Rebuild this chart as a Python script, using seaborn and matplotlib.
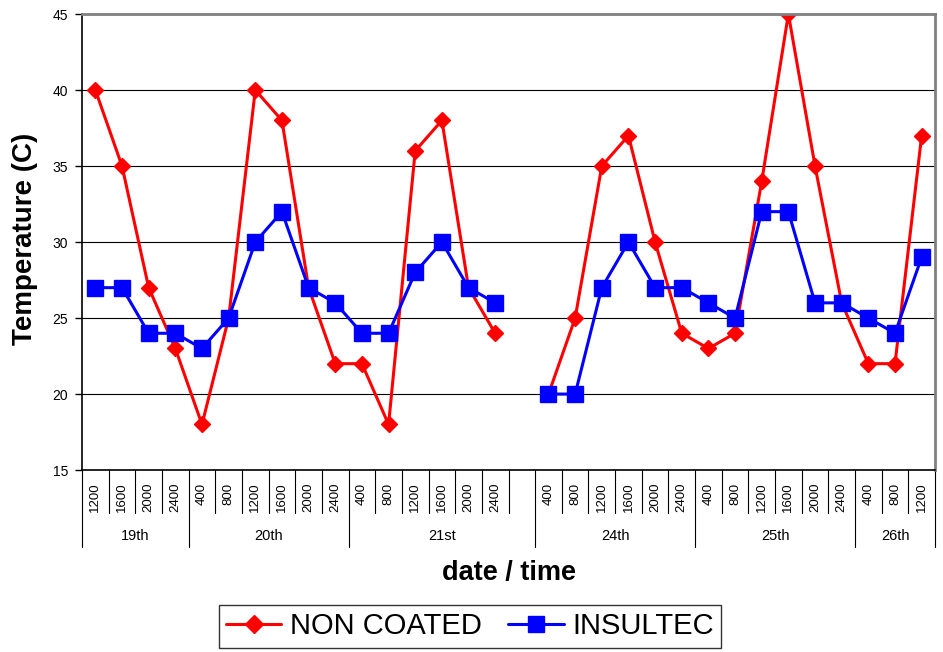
import numpy as np
import pandas as pd
import matplotlib
matplotlib.use('Agg')
import matplotlib.pyplot as plt
import seaborn as sns
from matplotlib.lines import Line2D

# categorias del eje x (hora) y grupos (dia); '' = hueco entre el 21 y el 24
time_labels = ['1200', '1600', '2000', '2400',
               '400', '800', '1200', '1600', '2000', '2400',
               '400', '800', '1200', '1600', '2000', '2400', '',
               '400', '800', '1200', '1600', '2000', '2400',
               '400', '800', '1200', '1600', '2000', '2400',
               '400', '800', '1200']
day_labels = ['19th', '20th', '21st', '24th', '25th', '26th']
day_sizes = [4, 6, 7, 6, 6, 3]

nan = np.nan
non_coated = [40, 35, 27, 23,
              18, 25, 40, 38, 27, 22,
              22, 18, 36, 38, 27, 24, nan,
              20, 25, 35, 37, 30, 24,
              23, 24, 34, 45, 35, 26,
              22, 22, 37]
insultec = [27, 27, 24, 24,
            23, 25, 30, 32, 27, 26,
            24, 24, 28, 30, 27, 26, nan,
            20, 20, 27, 30, 27, 27,
            26, 25, 32, 32, 26, 26,
            25, 24, 29]

sns.set_style('white')
plt.rcParams['font.family'] = ['Liberation Sans', 'DejaVu Sans']
for k in ['text.color', 'axes.labelcolor', 'xtick.color', 'ytick.color']:
    plt.rcParams[k] = 'black'

pos = np.arange(len(time_labels))
df = pd.DataFrame({'pos': pos, 'NON COATED': non_coated, 'INSULTEC': insultec})
df['seg'] = df['NON COATED'].isna().cumsum()
data = df.melt(id_vars=['pos', 'seg'], var_name='series', value_name='temp').dropna()

fig = plt.figure(figsize=(9.43, 6.52), dpi=100)
ax = fig.add_axes([0.087, 0.279, 0.9045, 0.6995])

styles = {'NON COATED': ('#FF0000', 'D', 8), 'INSULTEC': ('#0000FF', 's', 11)}
for name in ['NON COATED', 'INSULTEC']:
    color, marker, ms = styles[name]
    sub = data[data['series'] == name]
    sns.lineplot(data=sub, x='pos', y='temp', units='seg', estimator=None,
                 sort=False, color=color, marker=marker, markersize=ms,
                 markeredgecolor=color, markeredgewidth=1, linewidth=2.2,
                 legend=False, ax=ax)

ax.set_xlim(-0.5, len(time_labels) - 0.5)
ax.set_ylim(15, 45)
ax.set_yticks(range(15, 46, 5))
ax.yaxis.grid(True, color='black', linewidth=0.8)
ax.set_axisbelow(True)
ax.set_xlabel('')
ax.set_ylabel('')

ax.set_xticks(pos)
ax.set_xticklabels(time_labels, rotation=90, va='top', fontsize=9.5)
ax.tick_params(axis='x', length=0, pad=9)
ax.tick_params(axis='y', left=True, length=5, width=1, color='black',
               labelsize=10, pad=5)

for side in ['left', 'bottom']:
    ax.spines[side].set_color('black')
    ax.spines[side].set_linewidth(1.2)
for side in ['top', 'right']:
    ax.spines[side].set_color('#808080')
    ax.spines[side].set_linewidth(2)

# separadores de categorias y de dias bajo el eje
trans = ax.get_xaxis_transform()
group_edges = list(np.concatenate([[0], np.cumsum(day_sizes)]) - 0.5)
for b in np.arange(len(time_labels) + 1) - 0.5:
    depth = 0.169 if b in group_edges else 0.094
    ax.plot([b, b], [0, -depth], transform=trans, clip_on=False,
            color='black', linewidth=0.8)

starts = np.concatenate([[0], np.cumsum(day_sizes)[:-1]])
for lab, s, n in zip(day_labels, starts, day_sizes):
    ax.text(s + n / 2 - 0.5, -0.145, lab, transform=trans, ha='center',
            va='center', fontsize=10.5)

ax.text(0.5, -0.226, 'date / time', transform=ax.transAxes, ha='center',
        va='center', fontsize=19.5, fontweight='bold')
fig.text(25 / 943, 1 - 239 / 652, 'Temperature (C)', rotation=90,
         ha='center', va='center', fontsize=20, fontweight='bold')

handles = [Line2D([], [], color=styles[n][0], marker=styles[n][1],
                  markersize=styles[n][2] + 1, markeredgecolor=styles[n][0],
                  linewidth=2.2) for n in ['NON COATED', 'INSULTEC']]
leg = fig.legend(handles, ['NON COATED', 'INSULTEC'], loc='center',
                 bbox_to_anchor=(470 / 943, 1 - 626.5 / 652), ncol=2,
                 fontsize=21, frameon=True, fancybox=False, edgecolor='black',
                 handlelength=1.9, handletextpad=0.3, columnspacing=0.9,
                 borderpad=0.25)
leg.get_frame().set_linewidth(1)

fig.savefig('out.png', dpi=100)
